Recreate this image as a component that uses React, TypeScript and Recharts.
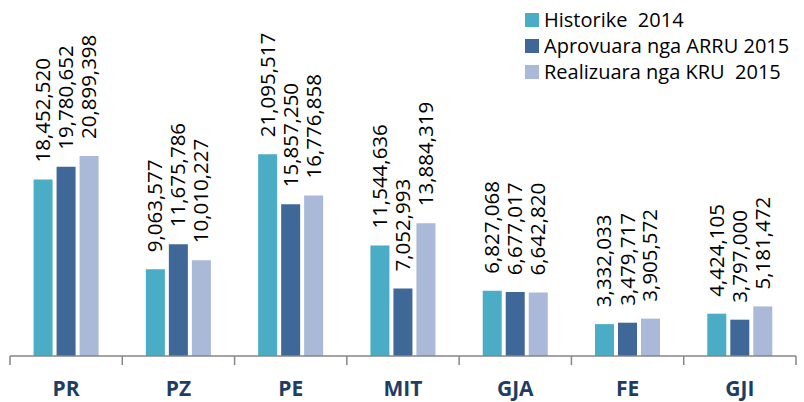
import React from 'react';
import { BarChart, Bar, XAxis, YAxis, Legend, LabelList } from 'recharts';

const categories = ['PR', 'PZ', 'PE', 'MIT', 'GJA', 'FE', 'GJI'];
const historike2014 = [18452520, 9063577, 21095517, 11544636, 6827068, 3332033, 4424105];
const aprovuara2015 = [19780652, 11675786, 15857250, 7052993, 6677017, 3479717, 3797000];
const realizuara2015 = [20899398, 10010227, 16776858, 13884319, 6642820, 3905572, 5181472];

const seriesNames = ['Historike  2014', 'Aprovuara nga ARRU 2015', 'Realizuara nga KRU  2015'];
const seriesKeys = ['h', 'a', 'r'];
const colors = ['#4BACC6', '#3F6797', '#A9B9D7'];

const data = categories.map((c, i) => ({
  name: c,
  h: historike2014[i],
  a: aprovuara2015[i],
  r: realizuara2015[i],
}));

const W = 804;
const H = 402;
const margin = { top: 69, right: 8, left: 10, bottom: 0 };
const band = (W - margin.left - margin.right) / categories.length;
const FONT = '"Open Sans", sans-serif';

const fmt = (v: number) => v.toLocaleString('en-US');

const ValueLabel = (props: any) => {
  const { x, y, width, value } = props;
  const cx = Number(x) + Number(width) / 2 + 7;
  const cy = Number(y) - 17;
  return (
    <text
      x={cx}
      y={cy}
      transform={`rotate(-90, ${cx}, ${cy})`}
      textAnchor="start"
      fontSize={20.5}
      fontFamily={FONT}
      fill="#000000"
    >
      {fmt(Number(value))}
    </text>
  );
};

const CatTick = (props: any) => {
  const { x, y, payload, index } = props;
  const axisY = y - 8;
  const last = index === categories.length - 1;
  return (
    <g>
      <line x1={x - band / 2} x2={x - band / 2} y1={axisY} y2={axisY + 9} stroke="#868686" strokeWidth={1.5} />
      {last && (
        <line x1={x + band / 2} x2={x + band / 2} y1={axisY} y2={axisY + 9} stroke="#868686" strokeWidth={1.5} />
      )}
      <text
        x={x}
        y={axisY + 40}
        textAnchor="middle"
        fontSize={21}
        fontWeight={700}
        fontFamily={FONT}
        fill="#1F3D64"
      >
        {payload.value}
      </text>
    </g>
  );
};

const LegendContent = () => (
  <div style={{ fontFamily: FONT, fontSize: 20, color: '#000', lineHeight: '26px' }}>
    {seriesNames.map((n, i) => (
      <div key={n} style={{ display: 'flex', alignItems: 'center', whiteSpace: 'pre' }}>
        <span style={{ display: 'inline-block', width: 14, height: 14, background: colors[i], marginRight: 5 }} />
        <span>{n}</span>
      </div>
    ))}
  </div>
);

export default function App() {
  return (
    <div style={{ position: 'absolute', left: 0, top: 0, width: W, height: H, background: '#fff' }}>
      <BarChart
        width={W}
        height={H}
        data={data}
        margin={margin}
        barCategoryGap="21%"
        barGap={4}
      >
        <XAxis
          dataKey="name"
          height={46}
          tickLine={false}
          axisLine={{ stroke: '#868686', strokeWidth: 1.5 }}
          tick={<CatTick />}
          interval={0}
        />
        <YAxis hide domain={[0, 30000000]} />
        <Legend
          layout="vertical"
          align="center"
          verticalAlign="middle"
          wrapperStyle={{ position: 'absolute', left: 525, top: 7, width: 280 }}
          content={<LegendContent />}
        />
        {seriesKeys.map((k, i) => (
          <Bar key={k} dataKey={k} name={seriesNames[i]} fill={colors[i]} isAnimationActive={false}>
            <LabelList dataKey={k} content={<ValueLabel />} />
          </Bar>
        ))}
      </BarChart>
    </div>
  );
}
